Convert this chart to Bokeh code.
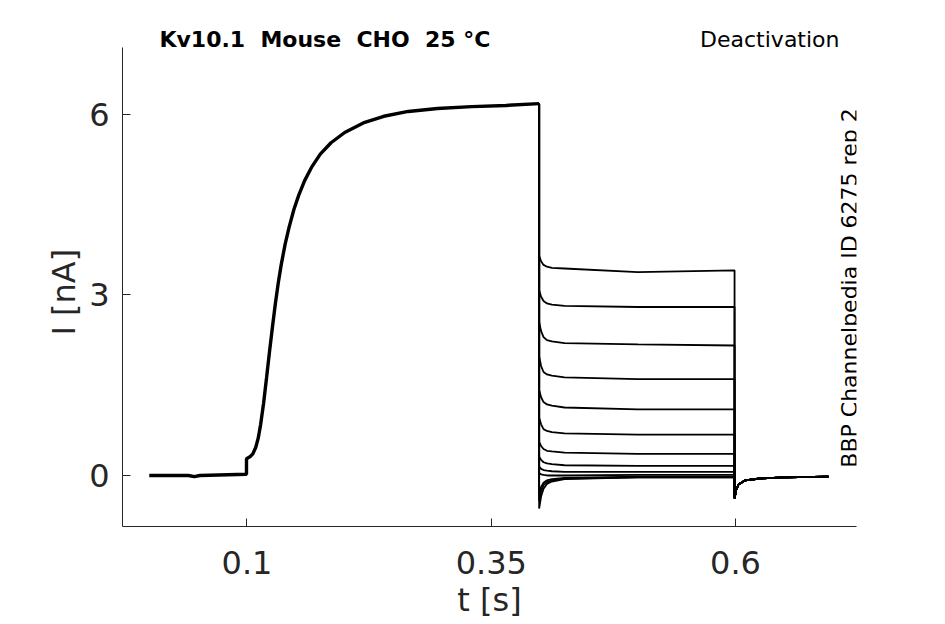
from bokeh.plotting import figure
from bokeh.models import Range1d, Label, FixedTicker, Title
from bokeh.embed import file_html
from bokeh.resources import INLINE
from math import pi

# ---- data ----
# shared prepulse / activation phase (all sweeps overlap)
act_t = [0.0, 0.040, 0.046, 0.052, 0.0995, 0.0995, 0.103, 0.106, 0.109, 0.1115,
         0.114, 0.117, 0.120, 0.123, 0.126, 0.129, 0.132, 0.135, 0.139, 0.143,
         0.148, 0.153, 0.159, 0.166, 0.175, 0.186, 0.200, 0.219, 0.240, 0.265,
         0.295, 0.330, 0.365, 0.399]
act_i = [0.0, 0.0, -0.02, 0.0, 0.02, 0.28, 0.31, 0.36, 0.47, 0.62,
         0.85, 1.20, 1.62, 2.05, 2.46, 2.85, 3.20, 3.50, 3.84, 4.12,
         4.42, 4.66, 4.90, 5.12, 5.34, 5.53, 5.70, 5.86, 5.97, 6.05,
         6.10, 6.13, 6.15, 6.18]

# deactivation tails: sample times and one current list per sweep
tail_t = [0.399, 0.401, 0.4035, 0.407, 0.412, 0.425, 0.5, 0.599]
tail_1 = [3.65, 3.56, 3.50, 3.47, 3.45, 3.44, 3.38, 3.41]
tail_2 = [3.08, 2.97, 2.90, 2.86, 2.84, 2.82, 2.80, 2.80]
tail_3 = [2.55, 2.40, 2.30, 2.25, 2.23, 2.20, 2.18, 2.16]
tail_4 = [1.98, 1.82, 1.72, 1.68, 1.66, 1.63, 1.60, 1.60]
tail_5 = [1.42, 1.30, 1.22, 1.18, 1.16, 1.13, 1.10, 1.10]
tail_6 = [0.96, 0.85, 0.77, 0.74, 0.72, 0.70, 0.68, 0.68]
tail_7 = [0.56, 0.49, 0.44, 0.41, 0.40, 0.38, 0.36, 0.36]
tail_8 = [0.31, 0.26, 0.22, 0.20, 0.19, 0.17, 0.16, 0.16]
tail_9 = [0.15, 0.11, 0.09, 0.08, 0.07, 0.06, 0.06, 0.06]
tail_10 = [0.04, 0.02, 0.01, 0.00, 0.00, 0.00, 0.01, 0.01]
tail_11 = [-0.30, -0.19, -0.12, -0.08, -0.06, -0.04, -0.02, -0.02]
tail_12 = [-0.42, -0.26, -0.16, -0.11, -0.08, -0.05, -0.03, -0.03]
tail_13 = [-0.55, -0.35, -0.22, -0.14, -0.10, -0.06, -0.03, -0.03]
tails = [tail_1, tail_2, tail_3, tail_4, tail_5, tail_6, tail_7,
         tail_8, tail_9, tail_10, tail_11, tail_12, tail_13]

# shared return to holding potential
post_t = [0.599, 0.6005, 0.603, 0.61, 0.625, 0.65, 0.695]
post_i = [-0.38, -0.25, -0.15, -0.08, -0.05, -0.03, -0.02]

x_ticks = [0.1, 0.35, 0.6]
x_tick_labels = ["0.1", "0.35", "0.6"]
y_ticks = [0, 3, 6]
y_axis_span = (-0.848, 7.113)

title_text = "Kv10.1 \u00a0Mouse \u00a0CHO \u00a025 °C"
protocol_text = "Deactivation"
side_text = "BBP Channelpedia ID 6275 rep 2"

# ---- figure ----
FONT = "DejaVu Sans"
GRAY = "#262626"

p = figure(width=945, height=624, output_backend="svg", toolbar_location=None,
           x_range=Range1d(-0.0274, 0.7238), y_range=Range1d(-0.848, 7.894),
           min_border_left=122, min_border_right=89, min_border_top=0,
           min_border_bottom=98)
p.xgrid.visible = False
p.ygrid.visible = False
p.outline_line_color = None
p.background_fill_color = "white"
p.border_fill_color = "white"

for ax in (p.xaxis, p.yaxis):
    ax.axis_line_color = GRAY
    ax.axis_line_width = 1
    ax.major_tick_line_color = GRAY
    ax.major_tick_in = 8
    ax.major_tick_out = 0
    ax.minor_tick_line_color = None
    ax.major_label_text_color = GRAY
    ax.major_label_text_font = FONT
    ax.major_label_text_font_size = "32px"
    ax.axis_label_text_font = FONT
    ax.axis_label_text_font_size = "32px"
    ax.axis_label_text_font_style = "normal"
    ax.axis_label_text_color = GRAY

p.xaxis.ticker = FixedTicker(ticks=x_ticks)
p.xaxis.major_label_overrides = {t: s for t, s in zip(x_ticks, x_tick_labels)}
p.xaxis.major_label_standoff = 24
p.xaxis.axis_label = "t [s]"
p.xaxis.axis_label_standoff = 4

p.yaxis.ticker = FixedTicker(ticks=y_ticks)
p.yaxis.major_label_standoff = 13
p.yaxis.bounds = y_axis_span

# y-axis label as a side title so that it can be centred on the axis line
p.add_layout(Title(text="I [nA]", align="left", offset=191, standoff=8,
                   text_font=FONT, text_font_size="32px",
                   text_font_style="normal", text_color=GRAY), "left")

# sweeps
xs, ys = [], []
for tail in tails:
    xs.append([act_t[-1]] + tail_t + post_t)
    ys.append([act_i[-1]] + tail + post_i)
p.multi_line(xs, ys, line_color="black", line_width=1.8)
p.line(act_t, act_i, line_color="black", line_width=3.4)

# texts
p.add_layout(Label(x=0.0104, y=7.24, text=title_text, text_font=FONT,
                   text_font_size="22px", text_font_style="bold",
                   text_color="black", text_baseline="middle", text_align="left"))
p.add_layout(Label(x=0.7064, y=7.25, text=protocol_text, text_font=FONT,
                   text_font_size="22px", text_color="black",
                   text_baseline="middle", text_align="right"))
p.add_layout(Label(x=0.7167, y=3.116, text=side_text, text_font=FONT,
                   text_font_size="22px", text_color="black", angle=pi / 2,
                   text_baseline="middle", text_align="center"))

open("out.html", "w").write(file_html(p, INLINE))
